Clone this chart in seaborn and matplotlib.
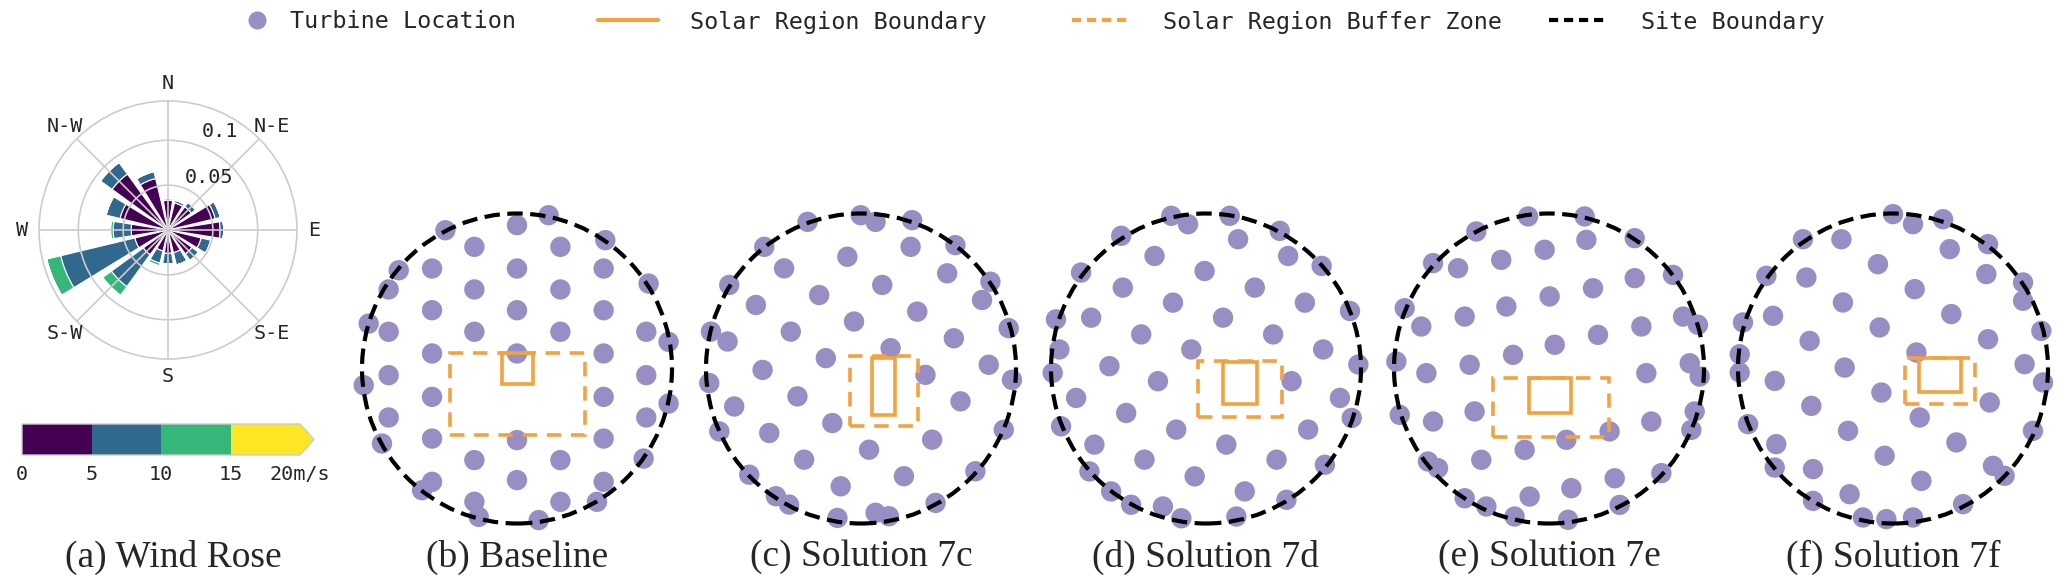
import numpy as np
import pandas as pd
import matplotlib
matplotlib.use("Agg")
import matplotlib.pyplot as plt
import seaborn as sns
from matplotlib.patches import Rectangle, Circle
from matplotlib.lines import Line2D
from matplotlib.colors import ListedColormap, BoundaryNorm
from matplotlib.cm import ScalarMappable

# ---------------- data ----------------
# wind rose: 16 compass directions, frequency per speed bin
dir_deg = [0, 22.5, 45, 67.5, 90, 112.5, 135, 157.5, 180, 202.5, 225, 247.5, 270, 292.5, 315, 337.5]
freq_0_5 = [0.033, 0.031, 0.032, 0.054, 0.058, 0.038, 0.033, 0.026, 0.026, 0.024, 0.034, 0.038, 0.041, 0.055, 0.077, 0.059]
freq_5_10 = [0.002, 0.003, 0.006, 0.006, 0.004, 0.011, 0.009, 0.014, 0.012, 0.014, 0.044, 0.085, 0.020, 0.016, 0.016, 0.008]
freq_10_15 = [0, 0, 0, 0, 0, 0, 0, 0, 0, 0.003, 0.012, 0.016, 0.003, 0, 0, 0]
freq_15_20 = [0, 0, 0, 0, 0, 0, 0, 0, 0, 0, 0, 0, 0, 0, 0, 0]
speed_bounds = [0, 5, 10, 15, 20]
speed_labels = ["0", "5", "10", "15", "20m/s"]
compass_labels = ["N", "N-E", "E", "S-E", "S", "S-W", "W", "N-W"]
rose_rings = [0.05, 0.1]
rose_ring_labels = ["0.05", "0.1"]

titles = ["(a) Wind Rose", "(b) Baseline", "(c) Solution 7c", "(d) Solution 7d",
          "(e) Solution 7e", "(f) Solution 7f"]

# turbine layouts (site radius = 1)
base_x = [-0.462, 0, 0.204, 0.570, -0.275, 0.280, -0.763, -0.548, 0, 0.559, -0.828, -0.275, 0.280, 0.849,
          -0.548, 0, 0.559, -0.957, -0.828, -0.275, 0.280, 0.834, 0.978, -0.548, 0, 0.559, -0.828, 0.834,
          -0.989, -0.548, 0.559, 0.978, -0.828, 0.834, -0.548, 0, 0.559, -0.871, -0.275, 0.280, 0.817,
          -0.548, 0, 0.559, -0.613, -0.275, 0.280, 0.516, -0.247, 0.140]
base_y = [0.892, 0.925, 0.989, 0.828, 0.785, 0.785, 0.634, 0.645, 0.645, 0.645, 0.510, 0.510, 0.510, 0.548,
          0.376, 0.376, 0.376, 0.290, 0.237, 0.237, 0.237, 0.237, 0.172, 0.097, 0.097, 0.097, -0.043, -0.043,
          -0.108, -0.183, -0.183, -0.226, -0.316, -0.316, -0.452, -0.462, -0.452, -0.484, -0.591, -0.591, -0.581,
          -0.731, -0.720, -0.731, -0.785, -0.860, -0.860, -0.860, -0.957, -0.978]

s7c_x = [-0.345, -0.002, 0.094, 0.330, -0.624, -0.088, 0.320, 0.609, -0.496, 0.556, 0.137, -0.850, 0.835,
         -0.270, -0.678, 0.363, 0.781, -0.045, -0.968, -0.861, -0.453, 0.599, 0.953, 0.191, -0.227, -0.635,
         0.824, 0.416, -0.979, 0.974, -0.410, -0.818, 0.642, -0.185, -0.914, -0.592, 0.921, 0.459, 0.052,
         -0.367, -0.721, 0.277, 0.738, -0.131, -0.549, -0.464, 0.481, -0.152, 0.094, 0.180]
s7c_y = [0.946, 0.989, 0.946, 0.957, 0.785, 0.721, 0.785, 0.796, 0.646, 0.614, 0.539, 0.539, 0.560,
         0.474, 0.410, 0.367, 0.442, 0.303, 0.238, 0.174, 0.238, 0.195, 0.260, 0.131, 0.067, -0.009,
         0.024, -0.041, -0.094, -0.073, -0.180, -0.245, -0.212, -0.352, -0.406, -0.416, -0.395, -0.459, -0.524,
         -0.588, -0.685, -0.695, -0.663, -0.760, -0.824, -0.878, -0.867, -0.964, -0.931, -0.953]

s7d_x = [-0.224, -0.116, 0.153, 0.476, -0.547, 0.207, -0.332, 0.530, 0.746, -0.806, -0.009, -0.537, 0.315,
         -0.213, 0.638, 0.929, -0.968, -0.741, 0.110, -0.418, 0.433, -0.946, -0.095, 0.756, -0.623, 0.983,
         -0.989, -0.310, 0.552, -0.838, 0.864, 0.940, -0.515, -0.935, -0.192, 0.659, -0.720, 0.131, -0.397,
         0.455, -0.752, -0.073, 0.767, -0.612, 0.250, -0.483, -0.278, 0.519, -0.159, 0.196]
s7d_y = [0.985, 0.931, 0.985, 0.888, 0.856, 0.834, 0.726, 0.726, 0.662, 0.619, 0.629, 0.522, 0.522,
         0.425, 0.425, 0.371, 0.317, 0.328, 0.328, 0.220, 0.220, 0.123, 0.123, 0.123, 0.015, 0.026,
         -0.028, -0.082, -0.082, -0.190, -0.190, -0.319, -0.287, -0.373, -0.394, -0.394, -0.491, -0.491, -0.588,
         -0.588, -0.664, -0.696, -0.621, -0.793, -0.793, -0.879, -0.890, -0.847, -0.966, -0.955]

s7e_x = [-0.135, 0.230, -0.469, 0.553, -0.028, 0.241, -0.308, -0.587, -0.748, 0.800, 0.553, 0.284, 0.004,
         -0.275, -0.544, -0.931, -0.824, 0.865, 0.961, 0.596, 0.316, 0.037, -0.232, -0.512, -0.985, -0.791,
         0.908, 0.972, 0.628, -0.480, -0.963, -0.748, 0.660, 0.940, 0.918, 0.391, 0.112, -0.157, -0.437,
         -0.781, -0.716, 0.725, 0.424, 0.144, -0.125, -0.544, -0.404, 0.456, -0.222, 0.123]
s7e_y = [0.981, 0.981, 0.884, 0.841, 0.766, 0.830, 0.701, 0.647, 0.680, 0.604, 0.583, 0.518, 0.465,
         0.400, 0.335, 0.389, 0.271, 0.335, 0.282, 0.271, 0.217, 0.153, 0.088, 0.024, 0.045, -0.030,
         0.034, -0.052, -0.030, -0.277, -0.299, -0.342, -0.342, -0.277, -0.396, -0.406, -0.460, -0.525, -0.589,
         -0.600, -0.643, -0.675, -0.708, -0.772, -0.826, -0.837, -0.890, -0.880, -0.955, -0.976]

s7f_x = [0, 0.129, 0.323, -0.581, -0.333, 0.613, 0.366, -0.097, -0.817, -0.559, 0.602, 0.839, 0.839,
         0.140, -0.323, 0.376, -0.968, -0.774, -0.086, 0.957, -0.538, 0.613, 0.151, -0.989, -0.989, -0.312,
         0.849, -0.763, 0.968, -0.075, 0.624, -0.527, 0.172, -0.935, -0.290, 0.903, 0.409, -0.753, -0.054,
         -0.763, -0.516, 0.645, 0.720, 0.183, -0.280, -0.516, 0.452, -0.194, -0.043, 0.129]
s7f_y = [0.996, 0.931, 0.963, 0.834, 0.834, 0.802, 0.770, 0.673, 0.598, 0.587, 0.609, 0.555, 0.437,
         0.512, 0.426, 0.351, 0.297, 0.340, 0.265, 0.243, 0.178, 0.189, 0.103, 0.092, -0.026, 0.006,
         0.028, -0.080, -0.090, -0.155, -0.219, -0.241, -0.316, -0.359, -0.402, -0.402, -0.477, -0.488, -0.563,
         -0.639, -0.649, -0.628, -0.692, -0.725, -0.811, -0.854, -0.875, -0.961, -0.972, -0.961]

layouts_x = [base_x, s7c_x, s7d_x, s7e_x, s7f_x]
layouts_y = [base_y, s7c_y, s7d_y, s7e_y, s7f_y]

# solar regions: (x0, y0, width, height)
solar_box = [(-0.10, -0.10, 0.20, 0.20), (0.07, -0.30, 0.15, 0.37), (0.11, -0.23, 0.22, 0.27),
             (-0.13, -0.29, 0.27, 0.23), (0.17, -0.15, 0.27, 0.22)]
buffer_box = [(-0.43, -0.43, 0.87, 0.53), (-0.07, -0.37, 0.44, 0.45), (-0.05, -0.31, 0.54, 0.36),
              (-0.36, -0.44, 0.75, 0.38), (0.08, -0.23, 0.45, 0.30)]
site_radius = 1.0

legend_labels = ["Turbine Location", "Solar Region Boundary", "Solar Region Buffer Zone", "Site Boundary"]

# ---------------- style ----------------
sns.set_style("white")
plt.rcParams['font.family'] = ['DejaVu Sans Mono', 'DejaVu Sans']
MONO = ['DejaVu Sans Mono', 'DejaVu Sans']
SERIF = ['Liberation Serif', 'DejaVu Serif']

TURB = '#998ec3'
ORANGE = '#f1a340'
viridis4 = ['#440154', '#31688e', '#35b779', '#fde725']
GRID = '#cccccc'

W, H = 2067, 584
fig = plt.figure(figsize=(W / 100, H / 100), dpi=100)

# ---------------- wind rose ----------------
rc_x, rc_y, rr = 168, 230, 129
rmax = 0.1437
axr = fig.add_axes([(rc_x - rr) / W, (H - rc_y - rr) / H, 2 * rr / W, 2 * rr / H], projection='polar')
axr.set_theta_zero_location('N')
axr.set_theta_direction(-1)
theta = np.deg2rad(dir_deg)
width = np.deg2rad(22.5 * 0.8)
bottom = np.zeros(len(dir_deg))
for vals, col in zip([freq_0_5, freq_5_10, freq_10_15, freq_15_20], viridis4):
    vals = np.asarray(vals)
    axr.bar(theta, vals, width=width, bottom=bottom, color=col, edgecolor='white', linewidth=0.8, zorder=1)
    bottom = bottom + vals
axr.set_ylim(0, rmax)
axr.set_yticks(rose_rings)
axr.set_yticklabels([])
axr.set_xticks(np.deg2rad(np.arange(0, 360, 45)))
axr.set_xticklabels(compass_labels, fontsize=14.5, family=MONO)
axr.tick_params(axis='x', pad=2)
axr.grid(True, color=GRID, linewidth=1.2)
axr.set_axisbelow(False)
axr.spines['polar'].set_color(GRID)
axr.spines['polar'].set_linewidth(1.2)
for r, lab, ang in zip(rose_rings, rose_ring_labels, [38, 28]):
    axr.text(np.deg2rad(ang), r + 0.024, lab, ha='center', va='center', fontsize=14.5, family=MONO)

# colorbar
cax = fig.add_axes([22 / W, (H - 455) / H, (314 - 22) / W, 31 / H])
cmap = ListedColormap(viridis4)
cmap.set_over(viridis4[-1])
norm = BoundaryNorm(speed_bounds, cmap.N)
cb = fig.colorbar(ScalarMappable(norm=norm, cmap=cmap), cax=cax, orientation='horizontal',
                  extend='max', ticks=speed_bounds)
cb.ax.set_xticklabels(speed_labels, fontsize=14.5, family=MONO)
cb.ax.tick_params(length=0, pad=7)
cb.outline.set_edgecolor(GRID)
cb.outline.set_linewidth(1.0)

# ---------------- layouts ----------------
centers = [517, 861, 1206, 1549, 1893]
cy = 368.5
half = 170
R_px = 155
lim = half / R_px
for i, cxp in enumerate(centers):
    ax = fig.add_axes([(cxp - half) / W, (H - cy - half) / H, 2 * half / W, 2 * half / H])
    df = pd.DataFrame({'x': layouts_x[i], 'y': layouts_y[i]})
    sns.scatterplot(data=df, x='x', y='y', ax=ax, s=215, color=TURB, edgecolor='none',
                    linewidth=0, zorder=2, legend=False)
    x0, y0, w, h = buffer_box[i]
    ax.add_patch(Rectangle((x0, y0), w, h, fill=False, edgecolor=ORANGE, linewidth=2.6,
                           linestyle=(0, (4, 2.7)), zorder=3))
    x0, y0, w, h = solar_box[i]
    ax.add_patch(Rectangle((x0, y0), w, h, fill=False, edgecolor=ORANGE, linewidth=2.6, zorder=3))
    ax.add_patch(Circle((0, 0), site_radius, fill=False, edgecolor='black', linewidth=3.0,
                        linestyle=(0, (3.7, 1.8)), zorder=4))
    ax.set_xlim(-lim, lim)
    ax.set_ylim(-lim, lim)
    ax.set_aspect('equal')
    ax.axis('off')

# titles
title_x = [173] + centers
for tx, t in zip(title_x, titles):
    fig.text(tx / W, 1 - 557 / H, t, ha='center', va='center', fontsize=27, family=SERIF)

# legend: one entry per block, placed along the top
FS = 16.8
em = FS * 100 / 72
handles = [Line2D([], [], marker='o', linestyle='none', markersize=13, color=TURB, markeredgewidth=0),
           Line2D([], [], color=ORANGE, linewidth=3),
           Line2D([], [], color=ORANGE, linewidth=3, linestyle=(0, (2.2, 1.4))),
           Line2D([], [], color='black', linewidth=3, linestyle=(0, (2.2, 1.4)))]
handle_start = [245, 598, 1072, 1549]
handle_len = [24, 60, 60, 60]
text_start = [290, 690, 1163, 1641]
for hd, lab, hs, hl, ts in zip(handles, legend_labels, handle_start, handle_len, text_start):
    fig.legend([hd], [lab], loc='center left', bbox_to_anchor=(hs / W, 1 - 22 / H),
               frameon=False, prop={'family': MONO, 'size': FS}, handlelength=hl / em,
               handletextpad=(ts - hs - hl) / em, borderpad=0, borderaxespad=0)

fig.savefig('out.png', dpi=100)
